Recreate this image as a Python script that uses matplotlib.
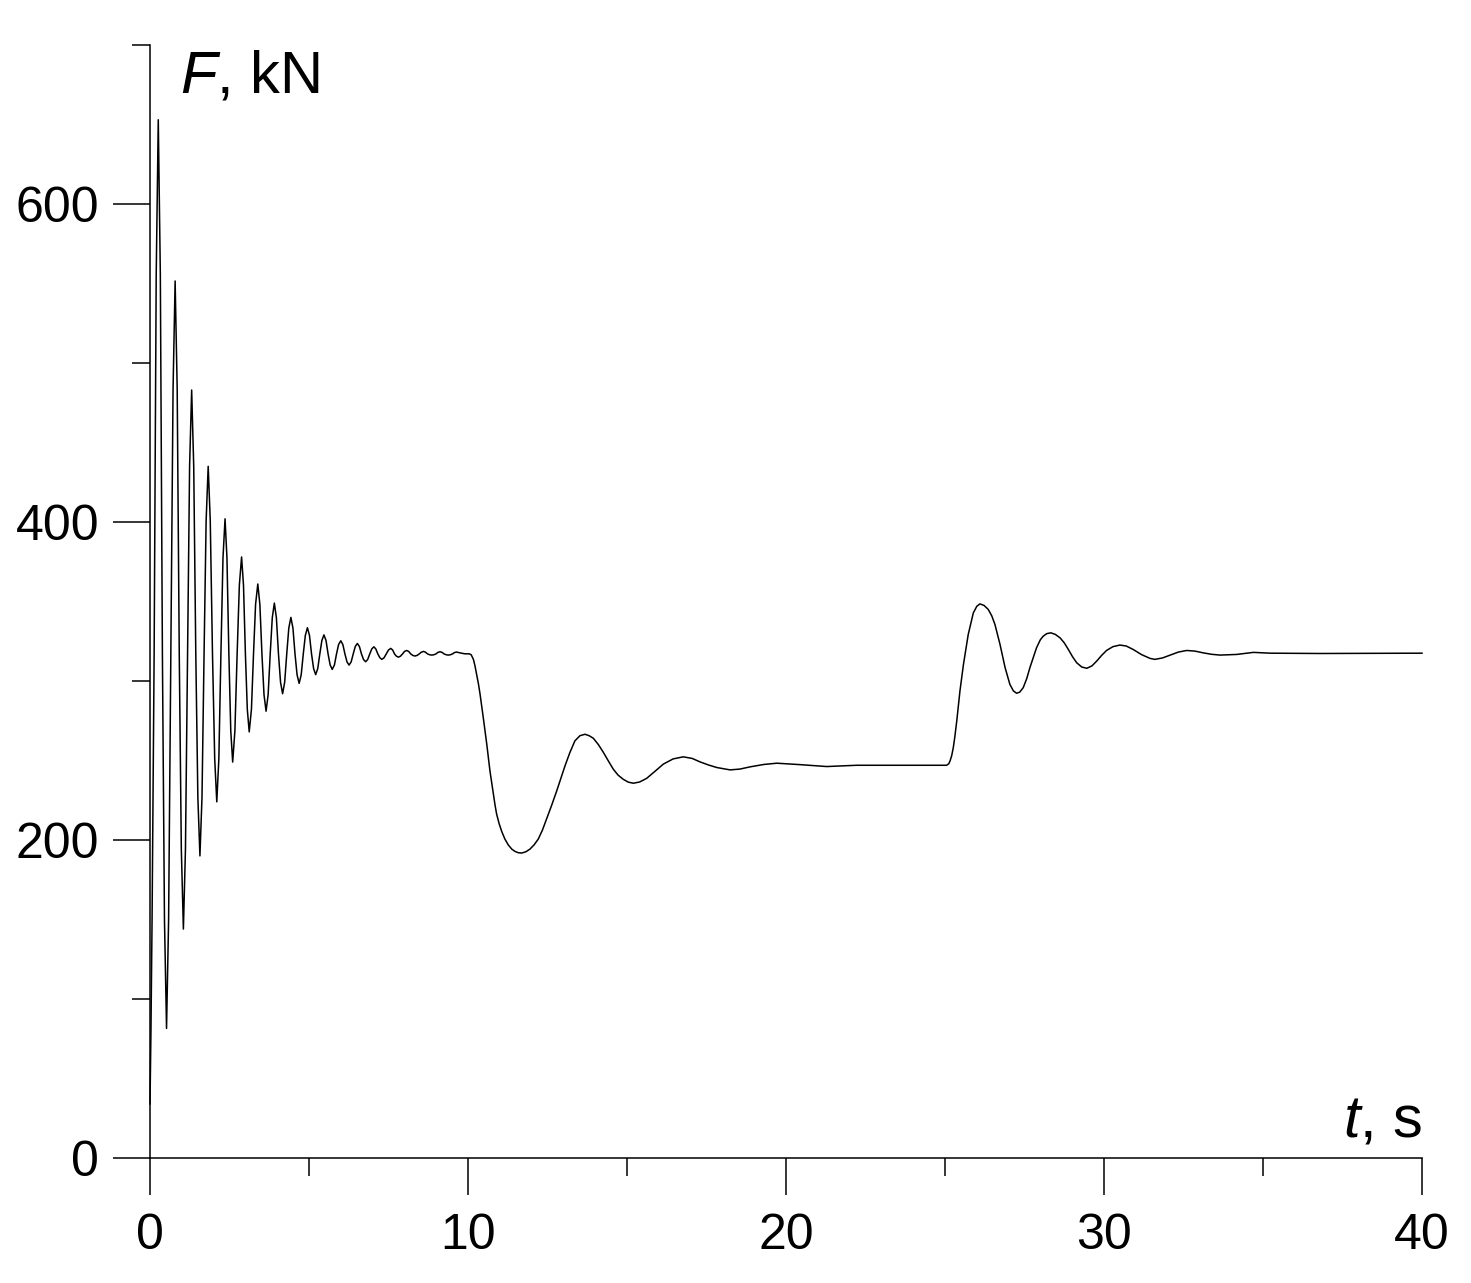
import matplotlib
matplotlib.use("Agg")
import matplotlib.pyplot as plt
from matplotlib.ticker import FixedLocator

# ---- data (t in s, F in kN) ----
# start-up oscillation (0 - 10 s)
t_osc = [0.00, 0.03, 0.065, 0.13, 0.195, 0.26,
         0.325, 0.39, 0.455, 0.52, 0.585, 0.655, 0.725, 0.79,
         0.855, 0.92, 0.985, 1.05, 1.115, 1.18, 1.245, 1.31,
         1.375, 1.44, 1.505, 1.57, 1.635, 1.70, 1.765, 1.83,
         1.895, 1.965, 2.035, 2.10, 2.165, 2.23, 2.295, 2.36,
         2.42, 2.48, 2.54, 2.60, 2.67, 2.74, 2.81, 2.88,
         2.94, 3.00, 3.06, 3.12, 3.19, 3.255, 3.32, 3.39,
         3.455, 3.52, 3.585, 3.65, 3.715, 3.78, 3.845, 3.91,
         3.975, 4.04, 4.105, 4.17, 4.235, 4.30, 4.365, 4.43,
         4.495, 4.56, 4.625, 4.69, 4.755, 4.82, 4.885, 4.95,
         5.015, 5.08, 5.145, 5.21, 5.275, 5.34, 5.405, 5.47,
         5.535, 5.60, 5.665, 5.73, 5.80, 5.865, 5.93, 6.00,
         6.065, 6.13, 6.195, 6.26, 6.325, 6.39, 6.455, 6.52,
         6.585, 6.65, 6.715, 6.78, 6.845, 6.91, 6.975, 7.04,
         7.10, 7.165, 7.23, 7.29, 7.36, 7.43, 7.50, 7.57,
         7.63, 7.69, 7.75, 7.81, 7.875, 7.94, 8.005, 8.07,
         8.135, 8.20, 8.265, 8.33, 8.40, 8.465, 8.53, 8.60,
         8.665, 8.73, 8.795, 8.86, 8.925, 8.99, 9.055, 9.12,
         9.185, 9.25, 9.315, 9.38, 9.445, 9.51, 9.575, 9.64,
         9.77, 9.90]
F_osc = [34, 80, 150, 317, 555, 653,
         555.6, 317, 149.8, 81.5, 149.8, 317, 483.6, 551.6,
         483.6, 317, 194.2, 144, 194.2, 317, 434.9, 483,
         434.9, 317, 226.8, 190, 226.8, 317, 400.8, 435,
         400.8, 317, 251.0, 224, 251.0, 317, 377.4, 402,
         377.4, 317, 268.7, 249, 268.7, 317, 360.3, 378,
         360.3, 317, 282.2, 268, 282.2, 317, 348.2, 361,
         348.2, 317, 291.4, 281, 291.4, 317, 339.7, 349,
         339.7, 317, 299.2, 292, 299.2, 317, 333.3, 340,
         333.3, 317, 303.9, 298.5, 303.9, 317, 328.7, 333.5,
         328.7, 317, 307.8, 304, 307.8, 317, 325.5, 329,
         325.5, 317, 310.1, 307.3, 310.1, 317, 322.9, 325.3,
         322.9, 317, 312.0, 310, 312.0, 317, 321.7, 323.6,
         321.7, 317, 313.5, 312.1, 313.5, 317, 320.2, 321.5,
         320.2, 317, 314.6, 313.6, 314.6, 317, 319.5, 320.5,
         319.5, 317, 315.6, 315, 315.6, 317, 318.6, 319.2,
         318.6, 317, 316.1, 315.7, 316.1, 317, 318.1, 318.6,
         318.1, 317, 316.5, 316.3, 316.5, 317, 318.0, 318.4,
         318.0, 317, 316.5, 316.3, 316.5, 317, 317.9, 318.2,
         317.6, 317.1]

# load drop at t = 10 s and settling
t_drop = [10.04, 10.10, 10.17, 10.22, 10.27, 10.33, 10.38, 10.48, 10.59, 10.69,
          10.80, 10.85, 10.90, 10.98, 11.06, 11.16, 11.27, 11.38, 11.48, 11.58,
          11.69, 11.82, 11.95, 12.08, 12.21, 12.34, 12.47, 12.63, 12.79, 12.92,
          13.05, 13.20, 13.36, 13.52, 13.68, 13.81, 13.94, 14.10, 14.26, 14.42,
          14.57, 14.72, 14.88, 15.04, 15.20, 15.40, 15.62, 15.88, 16.14, 16.45,
          16.77, 17.05, 17.30, 17.56, 17.82, 18.24, 18.55, 18.87, 19.30, 19.71,
          20.44, 21.28, 22.22, 23.90, 25.05]
F_drop = [317.1, 316.5, 313.6, 309.5, 304.2, 298, 291.6, 277, 260.3, 243.5,
          228.9, 222, 216.3, 210.2, 205.4, 200.6, 196.8, 194.2, 192.8, 192,
          191.8, 192.6, 194.3, 197, 200.6, 206.2, 213.2, 221.8, 230.9, 238.7,
          246.6, 254.8, 262.3, 265.6, 266.5, 265.6, 264, 260, 255, 249.5,
          244.5, 240.8, 238.2, 236.4, 235.7, 236.5, 238.8, 243.2, 247.7, 251,
          252.3, 251.3, 249.1, 247.2, 245.6, 244.1, 244.6, 246, 247.5, 248.3,
          247.4, 246.2, 247, 247, 247]

# load rise at t = 25 s and settling
t_rise = [25.12, 25.16, 25.21, 25.26, 25.31, 25.37, 25.47, 25.58, 25.73, 25.89,
          26.00, 26.10, 26.23, 26.36, 26.47, 26.57, 26.73, 26.89, 27.04, 27.15,
          27.25, 27.35, 27.46, 27.57, 27.67, 27.88, 28.00, 28.09, 28.20, 28.33,
          28.47, 28.62, 28.75, 28.88, 29.01, 29.14, 29.30, 29.46, 29.62, 29.77,
          29.92, 30.08, 30.28, 30.50, 30.70, 30.92, 31.18, 31.45, 31.60, 31.84,
          32.08, 32.34, 32.60, 32.86, 33.12, 33.38, 33.65, 34.17, 34.70, 35.22,
          36.79, 40.00]
F_rise = [248, 249.8, 253, 258, 265, 274.9, 293.7, 310.4, 329.2, 342.8,
          347, 348.5, 347.5, 345, 341, 335.6, 323, 308.4, 297.9, 293.8,
          292.3, 293, 295.8, 301.5, 308.4, 321, 326, 328.2, 329.8, 330.3,
          329.3, 327.1, 324, 319.8, 315.3, 311.5, 308.8, 308, 309.5, 312.5,
          316, 319.2, 321.6, 322.6, 322, 319.8, 316.6, 314.2, 313.6, 314.5,
          316.3, 318.2, 319.2, 318.8, 317.7, 316.8, 316.3, 316.7, 318, 317.5,
          317.3, 317.5]

x_major = [0, 10, 20, 30, 40]
x_minor = [5, 15, 25, 35]
y_major = [0, 200, 400, 600]
y_minor = [100, 300, 500, 700]

t_all = t_osc + t_drop + t_rise
F_all = F_osc + F_drop + F_rise

plt.rcParams['font.family'] = ['Liberation Sans', 'DejaVu Sans']
plt.rcParams['mathtext.fontset'] = 'custom'
plt.rcParams['mathtext.it'] = 'Liberation Sans:italic'
plt.rcParams['mathtext.rm'] = 'Liberation Sans'

W, H = 1471, 1283
fig = plt.figure(figsize=(W / 100, H / 100), dpi=100)
ax = fig.add_axes([150 / W, 125 / H, 1272 / W, 1113 / H])

ax.plot(t_all, F_all, color='black', lw=1.1, clip_on=False)

ax.set_xlim(0, 40)
ax.set_ylim(0, 700)
for s in ['top', 'right']:
    ax.spines[s].set_visible(False)
for s in ['left', 'bottom']:
    ax.spines[s].set_linewidth(1.1)

ax.xaxis.set_major_locator(FixedLocator(x_major))
ax.xaxis.set_minor_locator(FixedLocator(x_minor))
ax.yaxis.set_major_locator(FixedLocator(y_major))
ax.yaxis.set_minor_locator(FixedLocator(y_minor))
ax.set_xticklabels([str(v) for v in x_major])
ax.set_yticklabels([str(v) for v in y_major])

ax.tick_params(which='major', direction='out', length=26.5, width=1.1,
               labelsize=36)
ax.tick_params(which='minor', direction='out', length=13, width=1.1)
ax.tick_params(axis='x', which='major', pad=13)
ax.tick_params(axis='y', which='major', pad=10)

fig.text(180 / W, (H - 92) / H, r'$F$, kN', fontsize=43, ha='left',
         va='baseline')
fig.text(1422 / W, (H - 1137) / H, r'$t$, s', fontsize=43, ha='right',
         va='baseline')

fig.savefig('out.png', dpi=100, facecolor='white')
